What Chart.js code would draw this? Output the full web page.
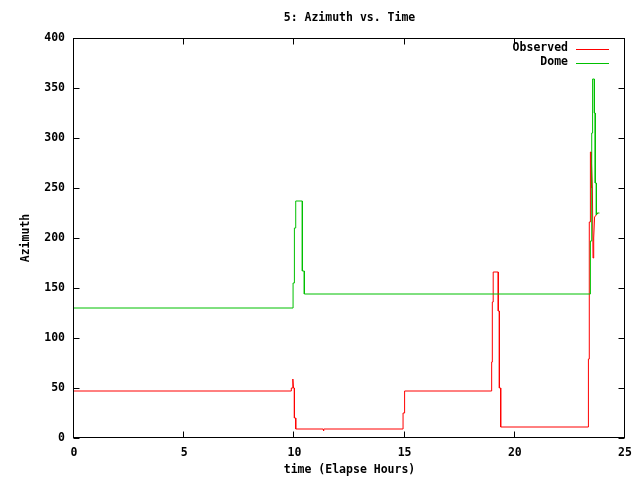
<!DOCTYPE html>
<html>
<head>
<meta charset="utf-8">
<script src="https://cdn.jsdelivr.net/npm/chart.js@4"></script>
<style>
  html, body { margin: 0; padding: 0; background: #fff; }
  #wrap { width: 640px; height: 480px; }
</style>
</head>
<body>
<div id="wrap"><canvas id="azChart" width="640" height="480"></canvas></div>
<script>
const chartTitle = '5: Azimuth vs. Time';
const xTitle = 'time (Elapse Hours)';
const yTitle = 'Azimuth';

// Observed azimuth (hours, degrees)
const obsHours = [0, 9.86, 9.86, 9.90, 9.93, 9.96, 10.0, 10.0, 10.06, 10.06, 11.30, 11.32, 11.34,
  14.93, 14.93, 15.0, 15.0, 18.95, 18.95, 18.98, 18.98, 19.02, 19.02, 19.25, 19.25, 19.30, 19.30,
  19.36, 19.36, 23.34, 23.34, 23.38, 23.38, 23.43, 23.43, 23.46, 23.46, 23.50, 23.52, 23.55, 23.58,
  23.62, 23.77];
const obsAzimuth = [47, 47, 50, 50, 59, 50, 50, 20, 20, 9, 9, 7, 9,
  9, 25, 25, 47, 47, 76, 76, 136, 136, 166, 166, 127, 127, 50,
  50, 11, 11, 79, 79, 216, 216, 286, 286, 250, 275, 250, 180, 200,
  221, 225];

// Dome azimuth (hours, degrees)
const domeHours = [0, 9.94, 9.94, 10.0, 10.0, 10.06, 10.06, 10.36, 10.36, 10.45, 10.45,
  23.43, 23.43, 23.49, 23.49, 23.53, 23.53, 23.61, 23.61, 23.65, 23.65, 23.70, 23.70, 23.74, 23.84];
const domeAzimuth = [130, 130, 155, 155, 210, 210, 237, 237, 167, 167, 144,
  144, 197, 197, 305, 305, 359, 359, 325, 325, 255, 255, 223, 225, 225];

const seriesNames = ['Observed', 'Dome'];
const seriesColors = ['#ff0000', '#00c000'];

const monoFont = { family: '"DejaVu Sans Mono", monospace', size: 11.5, weight: 'bold' };

function toPoints(xs, ys) {
  return xs.map((x, i) => ({ x: x, y: ys[i] }));
}

// gnuplot-like frame, inward mirrored ticks, title and legend
const framePlugin = {
  id: 'frame',
  afterDatasetsDraw(chart) {
    const ctx = chart.ctx;
    const a = chart.chartArea;
    const xs = chart.scales.x, ys = chart.scales.y;
    const L = Math.round(a.left) - 0.5, R = Math.round(a.right) - 0.5;
    const T = Math.round(a.top) + 0.5, B = Math.round(a.bottom) - 0.5;
    ctx.save();
    ctx.strokeStyle = '#000';
    ctx.lineWidth = 1;
    ctx.strokeRect(L, T, R - L, B - T);
    ctx.beginPath();
    xs.ticks.forEach(t => {
      const px = Math.round(xs.getPixelForValue(t.value)) - 0.5;
      ctx.moveTo(px, B); ctx.lineTo(px, B - 6);
      ctx.moveTo(px, T); ctx.lineTo(px, T + 6);
    });
    ys.ticks.forEach(t => {
      const py = Math.round(ys.getPixelForValue(t.value)) + 0.5;
      ctx.moveTo(L, py); ctx.lineTo(L + 6, py);
      ctx.moveTo(R, py); ctx.lineTo(R - 6, py);
    });
    ctx.stroke();

    ctx.font = 'bold 11.5px "DejaVu Sans Mono", monospace';
    ctx.fillStyle = '#000';
    ctx.textAlign = 'center';
    ctx.textBaseline = 'middle';
    ctx.fillText(chartTitle, (a.left + a.right) / 2, 18.5);

    // legend
    ctx.textAlign = 'right';
    seriesNames.forEach((name, i) => {
      const y = 48.5 + i * 14;
      ctx.fillStyle = '#000';
      ctx.fillText(name, 568, y);
      ctx.fillStyle = seriesColors[i];
      ctx.fillRect(576, Math.round(y), 33, 1);
    });
    ctx.restore();
  }
};

const ctx = document.getElementById('azChart').getContext('2d');
new Chart(ctx, {
  type: 'line',
  data: {
    datasets: [{
      label: seriesNames[0],
      data: toPoints(obsHours, obsAzimuth),
      borderColor: seriesColors[0],
      borderWidth: 1,
      pointRadius: 0,
      tension: 0,
      fill: false,
      order: 1
    }, {
      label: seriesNames[1],
      data: toPoints(domeHours, domeAzimuth),
      borderColor: seriesColors[1],
      borderWidth: 1,
      pointRadius: 0,
      tension: 0,
      fill: false,
      order: 0
    }]
  },
  options: {
    responsive: false,
    animation: false,
    events: [],
    layout: { padding: { top: 38, right: 15, left: 0, bottom: 0 } },
    plugins: {
      legend: { display: false },
      title: { display: false },
      tooltip: { enabled: false }
    },
    scales: {
      x: {
        type: 'linear',
        min: 0,
        max: 25,
        grid: { display: false, drawTicks: false },
        border: { display: false },
        ticks: { stepSize: 5, color: '#000', font: monoFont, padding: 8, maxRotation: 0 },
        title: { display: true, text: xTitle, color: '#000', font: monoFont, padding: { top: 3, bottom: 3 } },
        afterFit(scale) { scale.height = 42; }
      },
      y: {
        min: 0,
        max: 400,
        grid: { display: false, drawTicks: false },
        border: { display: false },
        ticks: { stepSize: 50, color: '#000', font: monoFont, padding: 9 },
        title: { display: true, text: yTitle, color: '#000', font: monoFont, padding: { top: 19, bottom: 19 } },
        afterFit(scale) { scale.width = 74; }
      }
    }
  },
  plugins: [framePlugin]
});
</script>
</body>
</html>
